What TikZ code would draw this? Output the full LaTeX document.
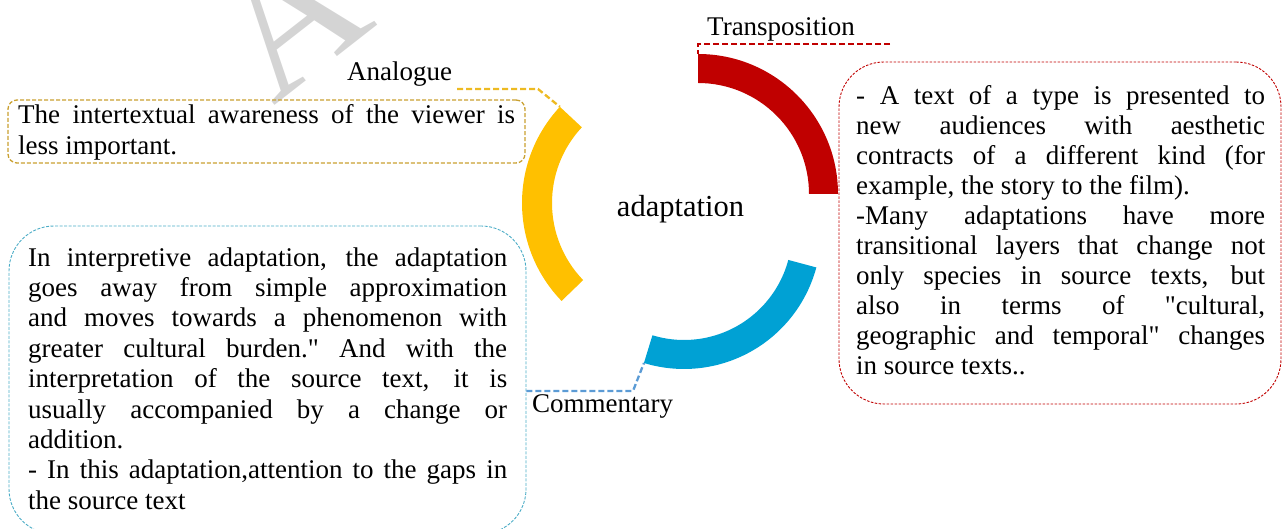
\documentclass[tikz,border=0pt]{standalone}
\usepackage{fontspec}
\setmainfont{Liberation Serif}[Ligatures=TeXOff]
\usetikzlibrary{calc}
\definecolor{arcred}{HTML}{C00000}
\definecolor{arcyel}{HTML}{FFC000}
\definecolor{arcblu}{HTML}{00A1D4}
\definecolor{boxyel}{HTML}{C9A030}
\definecolor{conyel}{HTML}{EDBA22}
\definecolor{boxred}{HTML}{C00000}
\definecolor{boxblu}{HTML}{4BACC6}
\definecolor{conblu}{HTML}{5B9BD5}
\definecolor{wmgray}{HTML}{D4D4D4}
\newcommand{\jline}[2]{\makebox[#1][s]{\spaceskip=0pt\xspaceskip=0pt #2}}
\newcommand{\nsp}{\spaceskip=0pt\xspaceskip=0pt\parindent=0pt\noindent}
\begin{document}
\begin{tikzpicture}[x=1pt,y=1pt,
  boxbase/.style={rectangle,inner sep=0pt,line width=0.9pt},
  txt/.style={inner sep=0pt,anchor=north west},
  lbl/.style={inner sep=0pt,anchor=base west,font=\fontsize{27}{30}\selectfont},
  conn/.style={line width=2pt,dash pattern=on 6pt off 3pt}]
\useasboundingbox (0,0) rectangle (1282,529);
\clip (0,0) rectangle (1282,529);

% watermark
\node[inner sep=0pt,anchor=base,rotate=38,text=wmgray,font=\fontsize{185}{185}\selectfont] (wmA) at (326,464) {A};

% arcs
\coordinate (cred) at (698,335);
\coordinate (cyel) at (663,326);
\coordinate (cblu) at (684,297);
\fill[arcred] ($(cred)+(0:140)$) arc[start angle=0,end angle=90,radius=140]
  -- ($(cred)+(90:111)$) arc[start angle=90,end angle=0,radius=111] -- cycle;
\fill[arcyel] ($(cyel)+(137:141)$) arc[start angle=137,end angle=224,radius=141]
  -- ($(cyel)+(224:111)$) arc[start angle=224,end angle=137,radius=111] -- cycle;
\fill[arcblu] ($(cblu)+(-107:137)$) arc[start angle=-107,end angle=-15,radius=137]
  -- ($(cblu)+(-15:108)$) arc[start angle=-15,end angle=-107,radius=108] -- cycle;
\coordinate (redtop) at ($(cred)+(90:140)$);
\coordinate (yeltop) at ($(cyel)+(137:141)$);
\coordinate (blulft) at ($(cblu)+(-107:137)$);

\node[inner sep=0pt,anchor=base,font=\fontsize{30.5}{36}\selectfont] (center) at (680.5,312) {adaptation};

% boxes
\node[boxbase,draw=boxyel,dash pattern=on 4pt off 2pt,line width=1.3pt,rounded corners=9pt,minimum width=517pt,minimum height=63pt] (ybox) at (266.5,397.5) {};
\node[boxbase,draw=boxred,dash pattern=on 2.5pt off 1.5pt,rounded corners=45pt,minimum width=442pt,minimum height=342pt] (rbox) at (1060,296) {};
\node[boxbase,draw=boxblu,dash pattern=on 3pt off 1.5pt,rounded corners=45pt,minimum width=517pt,minimum height=308pt] (bbox) at (267.5,149) {};

% texts
\node[txt,text width=497pt,font=\fontsize{27}{31}\selectfont] (ytext) at (18,427.7) {\nsp\strut\jline{497pt}{The intertextual awareness of the viewer is}\\
less important.};

\node[txt,text width=409pt,font=\fontsize{27}{30}\selectfont] (rtext) at (856,446) {\nsp\strut\jline{409pt}{- A text of a type is presented to}\\
\jline{409pt}{new audiences with aesthetic}\\
\jline{409pt}{contracts of a different kind (for}\\
example, the story to the film).\\
\jline{409pt}{-Many adaptations have more}\\
\jline{409pt}{transitional layers that change not}\\
\jline{409pt}{only species in source texts, but}\\
\jline{409pt}{also in terms of "cultural,}\\
\jline{409pt}{geographic and temporal" changes}\\
in source texts..};

\node[txt,text width=479pt,font=\fontsize{27}{30.4}\selectfont] (btext) at (28,284.3) {\nsp\strut\jline{479pt}{In interpretive adaptation, the adaptation}\\
\jline{479pt}{goes away from simple approximation}\\
\jline{479pt}{and moves towards a phenomenon with}\\
\jline{479pt}{greater cultural burden." And with the}\\
\jline{479pt}{interpretation of the source text, it is}\\
\jline{479pt}{usually accompanied by a change or}\\
addition.\\
\jline{479pt}{- In this adaptation,attention to the gaps in}\\
the source text};

% labels
\node[lbl] (transp) at (707,493) {Transposition};
\node[lbl] (analog) at (347,448) {Analogue};
\node[lbl] (comment) at (532,116) {Commentary};

% connectors
\coordinate (tpend) at (890,485);
\draw[conn,draw=arcred] (tpend) -| (redtop);
\coordinate (anlend) at (457,440);
\coordinate (anlbend) at (538,440);
\draw[conn,draw=conyel,line width=2.3pt] (anlend) -- (anlbend) -- (yeltop);
\coordinate (cmstart) at (bbox.east |- 0,138);
\coordinate (cmbend) at (633,138);
\draw[conn,draw=conblu,line width=2.3pt] (cmstart) -- (cmbend) -- (blulft);
\end{tikzpicture}
\end{document}
